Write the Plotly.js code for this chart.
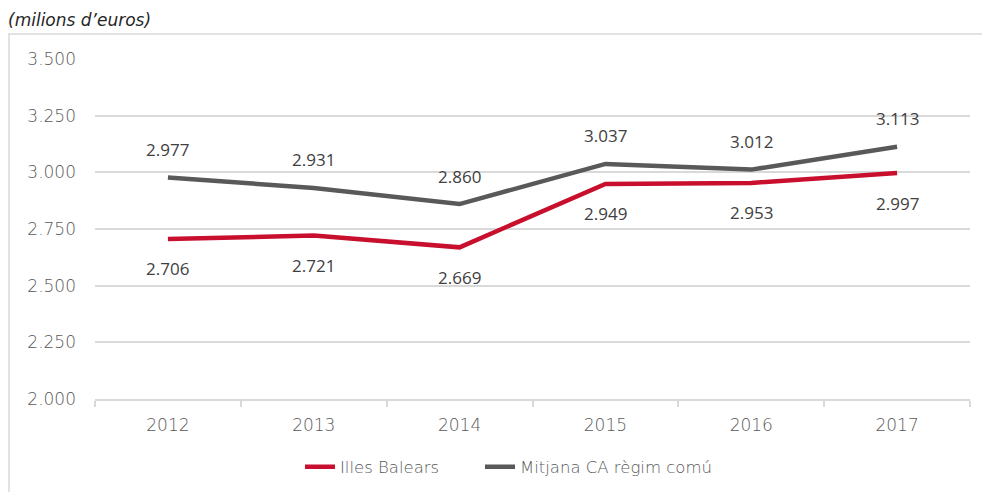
<!DOCTYPE html>
<html><head><meta charset="utf-8">
<script src="https://cdn.plot.ly/plotly-3.0.1.min.js"></script>
<style>html,body{margin:0;padding:0;background:#fff}#chart{width:982px;height:492px}</style>
</head><body><div id="chart"></div>
<script>
const years = ['2012','2013','2014','2015','2016','2017'];
const illesBalears = [2706, 2721, 2669, 2949, 2953, 2997];
const mitjanaCA = [2977, 2931, 2860, 3037, 3012, 3113];
const yTicks = [2000, 2250, 2500, 2750, 3000, 3250, 3500];

const fmt = v => String(v).replace(/\B(?=(\d{3})+(?!\d))/g, '.');
const red = '#c8102e', gray = '#595959';
const tickFontFamily = 'DejaVu Sans, sans-serif';

const traces = [
  {x: years, y: illesBalears, name: 'Illes Balears', mode: 'lines', line: {color: red, width: 4.5}, legend: 'legend'},
  {x: years, y: mitjanaCA, name: 'Mitjana CA règim comú', mode: 'lines', line: {color: gray, width: 4.5}, legend: 'legend2'}
];
const annFont = {family: 'Open Sans, sans-serif', size: 17, color: '#404040'};
const annotations = [];
years.forEach((yr, i) => {
  annotations.push({xref: 'x', yref: 'y', x: i, y: illesBalears[i], text: fmt(illesBalears[i]), showarrow: false, yshift: -30, font: annFont});
  annotations.push({xref: 'x', yref: 'y', x: i, y: mitjanaCA[i], text: fmt(mitjanaCA[i]), showarrow: false, yshift: 28, font: annFont});
});
annotations.push({xref: 'paper', yref: 'paper', x: (6-95)/875, y: (399-20)/340, xanchor: 'left', yanchor: 'middle',
  text: '<i>(milions d’euros)</i>', showarrow: false, font: {family: tickFontFamily, size: 17, color: '#262626', weight: 300}});

const legendFont = {family: tickFontFamily, size: 16.5, color: '#595959', weight: 200};
const layout = {
  width: 982, height: 492,
  margin: {l: 95, r: 12, t: 59, b: 93, autoexpand: false},
  paper_bgcolor: '#fff', plot_bgcolor: '#fff',
  separators: ',.',
  showlegend: true,
  legend: {orientation: 'h', x: (300-95)/875, xanchor: 'left', yref: 'container', y: (492-467)/492, yanchor: 'middle', font: legendFont},
  legend2: {orientation: 'h', x: (480-95)/875, xanchor: 'left', yref: 'container', y: (492-467)/492, yanchor: 'middle', font: legendFont},
  xaxis: {type: 'category', range: [-0.5, 5.5], showgrid: false, showline: true, linecolor: '#d9d9d9', linewidth: 1.5,
    ticks: 'outside', tickson: 'boundaries', ticklen: 6, tickcolor: '#d9d9d9', tickwidth: 1.5,
    tickfont: {family: tickFontFamily, size: 17, color: '#595959', weight: 200}, ticklabelstandoff: 10},
  yaxis: {range: [2000, 3500], tickvals: yTicks, tickformat: ',d', showgrid: true, gridcolor: '#d9d9d9', gridwidth: 1.5,
    zeroline: false, showline: false, tickfont: {family: tickFontFamily, size: 17, color: '#595959', weight: 200}, ticklabelstandoff: 18},
  annotations: annotations,
  shapes: [{type: 'rect', xref: 'paper', yref: 'paper', x0: (9-95)/875, x1: 1.2, y0: -0.5, y1: (399-34)/340,
    line: {color: '#d9d9d9', width: 1.5}, fillcolor: 'rgba(0,0,0,0)', layer: 'below'}]
};
Plotly.newPlot('chart', traces, layout, {displayModeBar: false});
</script></body></html>
